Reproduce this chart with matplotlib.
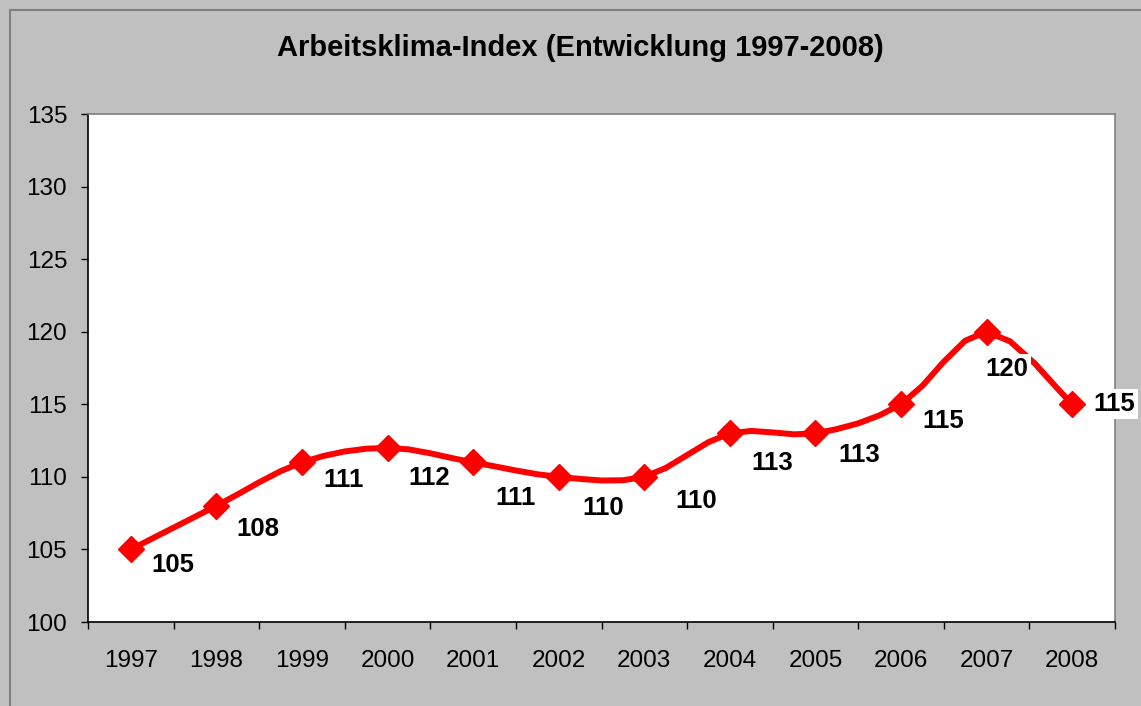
import numpy as np
import matplotlib.pyplot as plt
from matplotlib.patches import Rectangle

years = ['1997', '1998', '1999', '2000', '2001', '2002',
         '2003', '2004', '2005', '2006', '2007', '2008']
index_values = [105, 108, 111, 112, 111, 110, 110, 113, 113, 115, 120, 115]

# label offsets in pixels (dx, dy downwards), as placed in the original sheet
label_offsets = [(42, 16), (42, 23), (42, 18), (42, 30), (42, 36), (44, 31),
                 (52, 24), (42, 30), (44, 22), (42, 17), (20, 37), (42, 0)]

plt.rcParams['font.family'] = ['Liberation Sans', 'DejaVu Sans']

W, H = 1141, 706
fig = plt.figure(figsize=(W / 100, H / 100), dpi=100, facecolor='#c0c0c0')

# outer chart frame
fig.patches.append(Rectangle((10 / W, -0.1), 1.2, 1 - 10 / H + 0.1,
                             transform=fig.transFigure, fill=False,
                             edgecolor='#808080', linewidth=1.5))

ax = fig.add_axes([88 / W, 1 - 622 / H, (1115 - 88) / W, (622 - 114) / H])
ax.set_facecolor('white')


def smooth(xs, ys, steps=5):
    # bezier smoothing like the spreadsheet "smoothed line"
    pts = np.column_stack([xs, ys]).astype(float)
    n = len(pts)
    out = []
    for i in range(n - 1):
        p0 = pts[max(i - 1, 0)]
        p1 = pts[i]
        p2 = pts[i + 1]
        p3 = pts[min(i + 2, n - 1)]
        c1 = p1 + (p2 - p0) / 6
        c2 = p2 - (p3 - p1) / 6
        t = np.linspace(0, 1, steps)[:, None]
        seg = ((1 - t) ** 3) * p1 + 3 * ((1 - t) ** 2) * t * c1 \
            + 3 * (1 - t) * t ** 2 * c2 + t ** 3 * p2
        out.append(seg if i == 0 else seg[1:])
    out = np.vstack(out)
    return out[:, 0], out[:, 1]


x = np.arange(len(years))
sx, sy = smooth(x, index_values)
ax.plot(sx, sy, color='#ff0000', linewidth=4.3, zorder=2,
        solid_joinstyle='round', solid_capstyle='round')
ax.plot(x, index_values, linestyle='none', marker='D', markersize=13.5,
        color='#ff0000', zorder=4, clip_on=False)

for xi, v, (dx, dy) in zip(x, index_values, label_offsets):
    ax.annotate(str(v), (xi, v), xytext=(dx * 0.72, -dy * 0.72),
                textcoords='offset points', ha='center', va='center',
                fontsize=18.5, fontweight='bold', zorder=3,
                annotation_clip=False,
                bbox=dict(boxstyle='square,pad=0.12', fc='white', ec='none'))

ax.set_xlim(-0.5, len(years) - 0.5)
ax.set_ylim(100, 135)
ax.set_yticks(range(100, 136, 5))
ax.set_xticks(np.arange(-0.5, len(years), 1.0))
ax.set_xticklabels([])
ax.set_xticks(x, minor=True)
ax.set_xticklabels(years, minor=True)

ax.tick_params(axis='y', direction='out', length=5, width=1, pad=10,
               labelsize=17.5, colors='black')
ax.tick_params(axis='x', which='major', direction='out', length=5, width=1)
ax.tick_params(axis='x', which='minor', length=0, pad=20, labelsize=17.5)

ax.spines['left'].set_color('black')
ax.spines['bottom'].set_color('black')
ax.spines['top'].set_color('#808080')
ax.spines['right'].set_color('#808080')
for s in ax.spines.values():
    s.set_linewidth(1.2)

fig.text(580 / W, 1 - 48 / H, 'Arbeitsklima-Index (Entwicklung 1997-2008)',
         ha='center', va='center', fontsize=21, fontweight='bold')

fig.savefig('out.png', dpi=100, facecolor=fig.get_facecolor())
